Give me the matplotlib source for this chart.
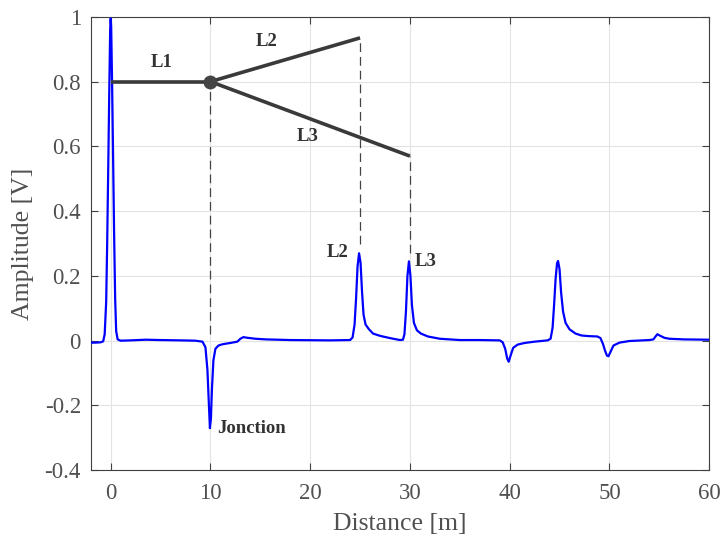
import numpy as np
import matplotlib.pyplot as plt

# signal (distance in m, amplitude in V)
dist = [-2, -1.5, -1.0, -0.75, -0.6, -0.45, -0.35, -0.25, -0.15, -0.05, 0.0, 0.05, 0.15, 0.25,
        0.35, 0.45, 0.55, 0.7, 1.0, 2.0, 3.5, 5, 7, 8.5, 9.2, 9.5, 9.7, 9.85, 9.95, 10.05, 10.15,
        10.3, 10.5, 10.8, 11.2, 12.0, 12.7, 13.0, 13.3, 13.7, 14.5, 15.6, 18, 22, 24.0, 24.25, 24.45,
        24.6, 24.75, 24.9, 25.05, 25.2, 25.35, 25.55, 25.9, 26.3, 27, 28, 29, 29.3, 29.45, 29.6,
        29.75, 29.9, 30.05, 30.2, 30.4, 30.7, 31.1, 31.8, 33, 35, 37, 39.0, 39.3, 39.55, 39.75,
        39.9, 40.1, 40.35, 40.8, 41.5, 42.5, 43.8, 44.1, 44.3, 44.45, 44.6, 44.75, 44.85, 45.0,
        45.15, 45.35, 45.6, 46.0, 46.6, 47.2, 48.0, 48.8, 49.1, 49.35, 49.55, 49.75, 49.9, 50.1,
        50.4, 51.0, 52.0, 54.0, 54.4, 54.8, 55.1, 55.5, 56.0, 57.5, 60]
amp = [-0.006, -0.006, -0.005, -0.002, 0.02, 0.12, 0.30, 0.52, 0.75, 0.96, 0.995, 0.97, 0.78, 0.55,
       0.32, 0.13, 0.03, 0.004, 0.0, 0.001, 0.003, 0.002, 0.001, 0.0, -0.003, -0.02, -0.09, -0.20,
       -0.27, -0.24, -0.15, -0.06, -0.025, -0.015, -0.011, -0.007, -0.003, 0.006, 0.011, 0.009,
       0.006, 0.004, 0.002, 0.001, 0.002, 0.01, 0.05, 0.13, 0.23, 0.27, 0.24, 0.15, 0.08, 0.05,
       0.035, 0.022, 0.015, 0.008, 0.002, 0.003, 0.02, 0.09, 0.20, 0.245, 0.20, 0.11, 0.055, 0.032,
       0.022, 0.013, 0.006, 0.002, 0.002, 0.001, -0.005, -0.025, -0.055, -0.065, -0.045, -0.022,
       -0.012, -0.007, -0.003, 0.001, 0.006, 0.04, 0.11, 0.19, 0.24, 0.246, 0.22, 0.15, 0.09, 0.055,
       0.035, 0.022, 0.016, 0.014, 0.013, 0.008, -0.01, -0.03, -0.046, -0.048, -0.035, -0.015,
       -0.006, -0.001, 0.002, 0.004, 0.02, 0.015, 0.009, 0.006, 0.004, 0.003]

# network sketch drawn on top
junction = (10, 0.8)
l1_start = (0, 0.8)
l2_end = (25, 0.935)
l3_end = (30, 0.57)
marker_x = [10, 25, 30]
marker_top = [0.8, 0.935, 0.57]
marker_bottom = [0.02, 0.30, 0.27]

labels = [("L1", 5.1, 0.858), ("L2", 15.6, 0.925), ("L3", 19.7, 0.632),
          ("L2", 22.7, 0.272), ("L3", 31.6, 0.244), ("Jonction", 14.15, -0.27)]

plt.rcParams['font.family'] = ['Liberation Serif', 'DejaVu Serif']

fig = plt.figure(figsize=(7.2, 5.43), dpi=100)
ax = fig.add_axes([0.126, 0.134, 0.859, 0.835])

ax.grid(True, color='#e3e3e3', linewidth=0.8)
ax.set_axisbelow(True)

ax.plot(dist, amp, color='#0000ff', linewidth=1.6, zorder=3)

dark = '#3a3a3a'
ax.vlines(marker_x, marker_bottom, marker_top, colors='#444444', linewidth=0.9,
          linestyles=(0, (7, 4)), zorder=2)
for end in (l1_start, l2_end, l3_end):
    ax.plot([junction[0], end[0]], [junction[1], end[1]], color=dark, linewidth=2.6,
            solid_capstyle='butt', zorder=4)
ax.plot(*junction, 'o', color='#444444', markersize=9, zorder=5)

for txt, x, y in labels:
    ax.text(x, y, txt, ha='center', va='center', fontsize=13.5, fontweight='bold', color='#333333',
            zorder=6)

ax.set_xlim(-2, 60)
ax.set_ylim(-0.4, 1)
ax.set_xticks(np.arange(0, 61, 10))
ax.set_yticks(np.arange(-0.4, 1.01, 0.2))
ax.set_yticklabels(['-0.4', '-0.2', '0', '0.2', '0.4', '0.6', '0.8', '1'])
ax.tick_params(direction='in', top=True, right=True, labelsize=16.5, colors='#404040',
               labelcolor='#505050', length=5, width=0.8)
ax.tick_params(axis='x', pad=9)
ax.tick_params(axis='y', pad=7)
for s in ax.spines.values():
    s.set_color('#404040')
    s.set_linewidth(0.8)

ax.set_xlabel('Distance [m]', fontsize=18.5, color='#505050', labelpad=7)
ax.set_ylabel('Amplitude [V]', fontsize=18.5, color='#505050', labelpad=8)

fig.savefig('out.png', dpi=100)
